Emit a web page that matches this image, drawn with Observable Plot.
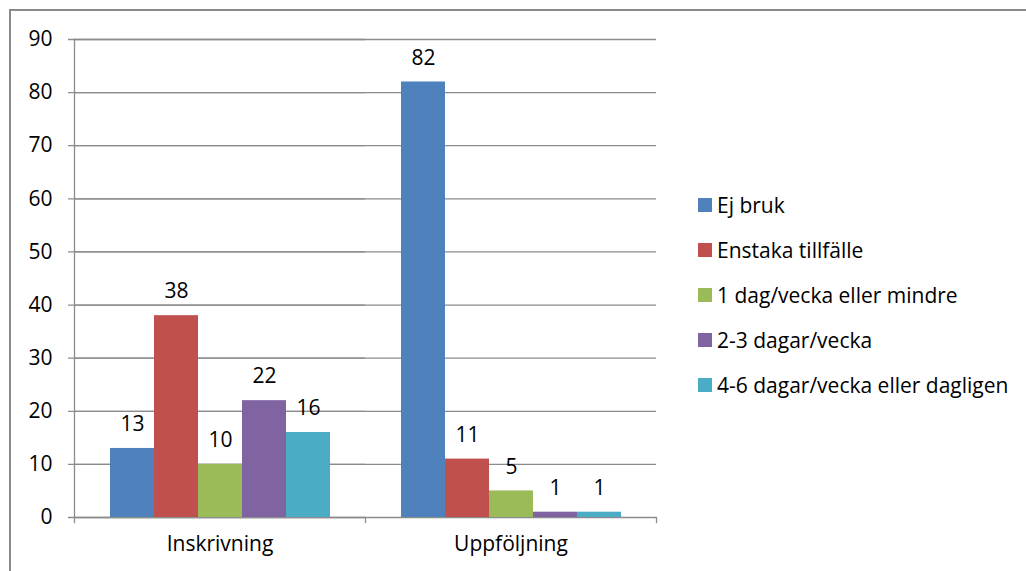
<!DOCTYPE html>
<html>
<head>
<meta charset="utf-8">
<script src="https://cdn.jsdelivr.net/npm/d3@7"></script>
<script src="https://cdn.jsdelivr.net/npm/@observablehq/plot@0.6"></script>
<style>
  html, body { margin: 0; padding: 0; background: #fff; overflow: hidden; }
  #wrap { position: relative; width: 1026px; height: 571px; overflow: hidden; font-family: "Open Sans", sans-serif; }
  #border { position: absolute; left: 9px; top: 9px; width: 1100px; height: 700px; border: 2px solid #8a8a8a; box-sizing: border-box; }
  #chart { position: absolute; left: 0; top: 0; }
  #legend { position: absolute; left: 698px; top: 182px; }
  .li { display: flex; align-items: center; height: 45px; font-size: 21px; color: #000; white-space: nowrap; }
  .sw { width: 14px; height: 14px; margin-right: 5px; flex: none; }
</style>
</head>
<body>
<div id="wrap">
  <div id="border"></div>
  <div id="chart"></div>
  <div id="legend"></div>
</div>
<script>
const categories = ["Inskrivning", "Uppföljning"];
const series = ["Ej bruk", "Enstaka tillfälle", "1 dag/vecka eller mindre", "2-3 dagar/vecka", "4-6 dagar/vecka eller dagligen"];
const ejBruk = [13, 82];
const enstaka = [38, 11];
const enDag = [10, 5];
const tvaTre = [22, 1];
const fyraSex = [16, 1];
const colors = ["#4F81BD", "#C0504D", "#9BBB59", "#8064A2", "#4BACC6"];
const yTicks = [0, 10, 20, 30, 40, 50, 60, 70, 80, 90];

const seriesValues = [ejBruk, enstaka, enDag, tvaTre, fyraSex];
const data = [];
categories.forEach((c, i) => {
  series.forEach((s, j) => data.push({category: c, series: s, value: seriesValues[j][i]}));
});

const W = 1026, H = 571, mT = 39, mB = 54, mL = 73, mR = 370;
const innerH = H - mT - mB;
const grid = "#8c8c8c";

const chart = Plot.plot({
  width: W,
  height: H,
  marginTop: mT,
  marginBottom: mB,
  marginLeft: mL,
  marginRight: mR,
  style: {fontFamily: "'Open Sans', sans-serif", fontSize: "21px", color: "#000", background: "transparent"},
  fx: {domain: categories, padding: 0, label: null},
  x: {domain: series, paddingInner: 0, paddingOuter: 0.74, axis: null},
  y: {domain: [0, 90], label: null},
  color: {domain: series, range: colors},
  marks: [
    Plot.ruleY(yTicks, {y: d => d, stroke: grid, strokeWidth: 1.3}),
    Plot.ruleY(yTicks, {y: d => d, stroke: grid, strokeWidth: 1.3, fx: () => "Inskrivning", insetLeft: -6}),
    Plot.frame({anchor: "left", fx: "Inskrivning", stroke: grid, strokeWidth: 1.3, insetBottom: -5}),
    Plot.frame({anchor: "right", stroke: grid, strokeWidth: 1.3, insetTop: innerH, insetBottom: -5}),
    Plot.barY(data, {fx: "category", x: "series", y: "value", fill: "series"}),
    Plot.text(data, {fx: "category", x: "series", y: "value", text: d => String(d.value), dy: -24, fontSize: 21, fill: "#000", lineAnchor: "middle"}),
    Plot.axisY({ticks: yTicks, tickSize: 0, tickPadding: 22, fontSize: 21, label: null, tickFormat: d => String(d)}),
    Plot.axisFx({anchor: "bottom", tickSize: 0, tickPadding: 19, fontSize: 21, label: null})
  ]
});
document.getElementById("chart").appendChild(chart);

const legend = document.getElementById("legend");
series.forEach((s, j) => {
  const row = document.createElement("div");
  row.className = "li";
  const sw = document.createElement("span");
  sw.className = "sw";
  sw.style.background = colors[j];
  const t = document.createElement("span");
  t.textContent = s;
  row.appendChild(sw);
  row.appendChild(t);
  legend.appendChild(row);
});
</script>
</body>
</html>
